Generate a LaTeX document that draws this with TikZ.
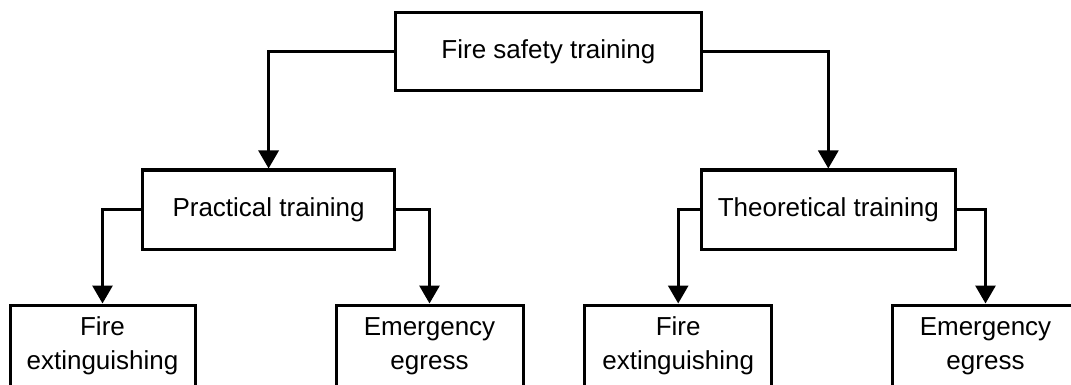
\documentclass[tikz,border=0pt]{standalone}
\usepackage{fontspec}
\setmainfont{Liberation Sans}
\usetikzlibrary{arrows.meta}
\begin{document}
\begin{tikzpicture}[x=1pt,y=-1pt,
  box/.style={draw, line width=3pt, rectangle, inner sep=0pt, align=center,
              font=\fontsize{26}{34}\selectfont},
  link/.style={line width=3pt, -{Triangle[width=20pt,length=18pt]}}]
\useasboundingbox (0,0) rectangle (1071,385);
\clip (0,0) rectangle (1071,385);
% root
\node[box, minimum width=306.7pt, minimum height=78pt] (root) at (548.4,51.7) {Fire safety training};
% second level
\node[box, minimum width=252pt, minimum height=79pt] (prac) at (268.6,209.5) {Practical training};
\node[box, minimum width=253.5pt, minimum height=79pt] (theo) at (828.3,209.5) {Theoretical training};
% leaves
\node[box, minimum width=185pt, minimum height=82pt] (pfe) at (102.5,346) {Fire\\extinguishing};
\node[box, minimum width=187pt, minimum height=82pt] (pee) at (429.5,346) {Emergency\\egress};
\node[box, minimum width=186.5pt, minimum height=82pt] (tfe) at (678.2,346) {Fire\\extinguishing};
\node[box, minimum width=186pt, minimum height=82pt] (tee) at (985.5,346) {Emergency\\egress};
% connectors
\draw[link] (root.west) -| (prac.north);
\draw[link] (root.east) -| (theo.north);
\draw[link] (prac.west) -| (pfe.north);
\draw[link] (prac.east) -| (pee.north);
\draw[link] (theo.west) -| (tfe.north);
\draw[link] (theo.east) -| (tee.north);
\end{tikzpicture}
\end{document}
